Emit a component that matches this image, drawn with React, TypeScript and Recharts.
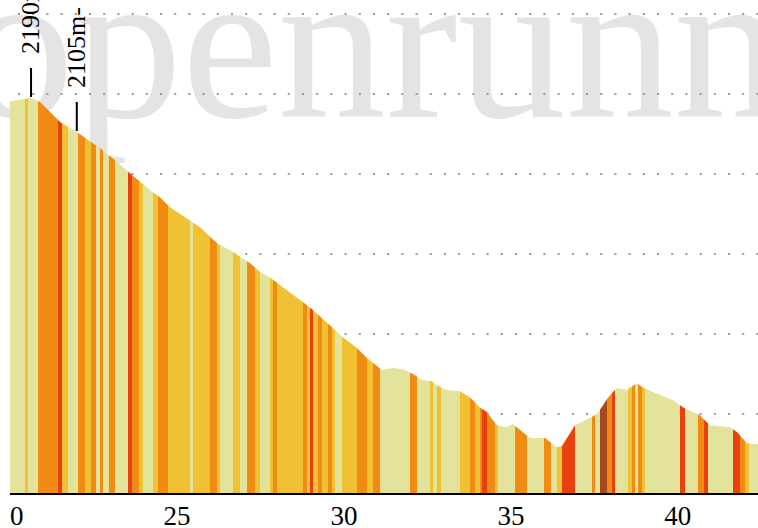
import React from 'react';
import { AreaChart, Area, XAxis, YAxis, CartesianGrid, ReferenceDot } from 'recharts';

// Distance (km) and elevation (m) along the profile
const kmPts = [20.0, 20.3, 20.63, 20.9, 21.5, 22.0, 22.69, 23.14, 23.59, 24.19, 24.49, 24.79, 25.69, 26.2, 26.68, 27.19, 27.49, 27.78, 28.17, 28.77, 29.07, 29.67, 29.97, 30.39, 30.69, 31.14, 31.47, 31.77, 32.07, 32.34, 32.63, 32.78, 33.08, 33.47, 33.77, 34.07, 34.28, 34.58, 34.88, 35.06, 35.57, 36.02, 36.38, 36.53, 36.92, 37.37, 37.6, 37.9, 38.17, 38.47, 38.77, 38.95, 39.25, 39.85, 40.15, 40.66, 40.96, 41.56, 41.77, 42.07, 42.4];
const elevPts = [2182, 2186, 2190, 2180, 2130, 2105, 2065, 2035, 2002, 1960, 1942, 1917, 1867, 1827, 1805, 1777, 1755, 1742, 1717, 1680, 1660, 1615, 1592, 1565, 1540, 1510, 1515, 1512, 1500, 1485, 1482, 1472, 1460, 1457, 1442, 1417, 1405, 1372, 1367, 1375, 1340, 1340, 1317, 1320, 1372, 1390, 1402, 1440, 1465, 1460, 1477, 1467, 1455, 1435, 1417, 1397, 1372, 1367, 1355, 1327, 1325];

// Slope-class stripes: start km and class
const segStartKm = [20.0, 20.45, 20.54, 20.84, 21.44, 21.56, 21.74, 22.04, 22.25, 22.43, 22.57, 22.69, 22.78, 22.96, 23.14, 23.53, 23.65, 23.86, 23.98, 24.28, 24.43, 24.73, 25.39, 25.48, 25.99, 26.2, 26.29, 26.68, 26.89, 27.1, 27.34, 27.49, 27.78, 27.87, 27.99, 28.77, 28.89, 28.98, 29.07, 29.22, 29.34, 29.52, 29.64, 29.73, 29.94, 30.39, 30.69, 30.87, 31.08, 31.98, 32.19, 32.57, 32.66, 32.78, 32.9, 33.47, 33.77, 33.92, 34.07, 34.13, 34.28, 34.52, 34.61, 35.12, 35.48, 35.99, 36.2, 36.38, 36.53, 36.92, 37.43, 37.51, 37.66, 37.87, 38.02, 38.11, 38.5, 38.62, 38.71, 38.8, 38.92, 39.01, 40.06, 40.21, 40.6, 40.78, 40.9, 41.65, 41.86, 42.01, 42.13];
const segClass = ['P', 'G', 'P', 'O', 'R', 'G', 'P', 'O', 'G', 'O', 'P', 'O', 'P', 'O', 'P', 'R', 'O', 'G', 'P', 'G', 'O', 'G', 'P', 'G', 'O', 'G', 'P', 'G', 'P', 'O', 'G', 'P', 'G', 'O', 'G', 'O', 'G', 'R', 'G', 'O', 'G', 'O', 'G', 'P', 'G', 'O', 'G', 'O', 'P', 'O', 'P', 'G', 'P', 'G', 'P', 'G', 'O', 'G', 'O', 'R', 'O', 'G', 'P', 'O', 'P', 'O', 'P', 'G', 'R', 'P', 'O', 'P', 'D', 'O', 'R', 'P', 'G', 'O', 'P', 'O', 'G', 'P', 'R', 'P', 'O', 'R', 'P', 'R', 'O', 'G', 'P'];
const classColors: Record<string, string> = {
  P: '#e3e39b',
  G: '#f0c132',
  O: '#f08c14',
  R: '#e8400e',
  D: '#a54a1e',
};

const xTicks = [20, 25, 30, 35, 40];
const yTicks = [1200, 1400, 1600, 1800, 2000, 2200, 2400];
const xDomain = [20, 42.4];
const yDomain = [1200, 2400];

// Summit annotations
const annotKm = [20.63, 22.0];
const annotElev = [2190, 2105];
const annotLabel = ['2190m', '2105m-'];

const profile = kmPts.map((k, i) => ({ km: k, elev: elevPts[i] }));

const gradientStops = (() => {
  const span = xDomain[1] - xDomain[0];
  const stops: { off: number; color: string }[] = [];
  segStartKm.forEach((s, i) => {
    const e = i + 1 < segStartKm.length ? segStartKm[i + 1] : xDomain[1];
    const c = classColors[segClass[i]];
    stops.push({ off: (s - xDomain[0]) / span, color: c });
    stops.push({ off: (e - xDomain[0]) / span, color: c });
  });
  return stops;
})();

const serif = '"Liberation Serif", "Times New Roman", serif';

const AxisTick = (props: any) => {
  const { x, y, payload } = props;
  return (
    <text x={x} y={y} dy="0.71em" textAnchor="middle" fill="#000" fontSize={27} fontFamily={serif}>
      {payload.value}
    </text>
  );
};

const makeMarker = (label: string) => (props: any) => {
  const { cx, cy } = props;
  const bx = cx + 8;
  const by = cy - 44;
  return (
    <g>
      <line x1={cx} y1={cy - 1} x2={cx} y2={cy - 30} stroke="#000" strokeWidth={2} />
      <text x={bx} y={by} transform={`rotate(-90 ${bx} ${by})`} fill="#000" fontSize={26} fontFamily={serif}>
        {label}
      </text>
    </g>
  );
};

export default function App() {
  return (
    <div style={{ position: 'absolute', left: 0, top: 0, width: 758, height: 528, overflow: 'hidden', background: '#fff' }}>
      <svg width={758} height={528} style={{ position: 'absolute', left: 0, top: 0 }}>
        <text x={-34} y={117} fill="#e4e4e4" fontSize={216} fontFamily={serif}>
          openrunner
        </text>
      </svg>
      <div style={{ position: 'absolute', left: 10, top: 0 }}>
        <AreaChart width={748} height={528} data={profile} margin={{ top: 14, right: 0, bottom: 0, left: 0 }}>
          <defs>
            <linearGradient id="slopeGrad" x1="0" y1="0" x2="1" y2="0">
              {gradientStops.map((s, i) => (
                <stop key={i} offset={s.off} stopColor={s.color} />
              ))}
            </linearGradient>
          </defs>
          <CartesianGrid
            vertical={false}
            stroke="#999"
            strokeWidth={2}
            strokeDasharray="2 12.2"
            strokeDashoffset={6.2}
          />
          <XAxis
            dataKey="km"
            type="number"
            domain={xDomain}
            ticks={xTicks}
            interval={0}
            allowDataOverflow
            height={34}
            tickLine={false}
            tickSize={8}
            tickMargin={4}
            axisLine={{ stroke: '#000', strokeWidth: 2 }}
            tick={<AxisTick />}
          />
          <YAxis hide domain={yDomain} ticks={yTicks} allowDataOverflow />
          <Area
            type="linear"
            dataKey="elev"
            stroke="none"
            fill="url(#slopeGrad)"
            fillOpacity={1}
            isAnimationActive={false}
            baseValue={1200}
          />
          {annotKm.map((k, i) => (
            <ReferenceDot key={i} x={k} y={annotElev[i]} r={0} shape={makeMarker(annotLabel[i])} />
          ))}
        </AreaChart>
      </div>
    </div>
  );
}
